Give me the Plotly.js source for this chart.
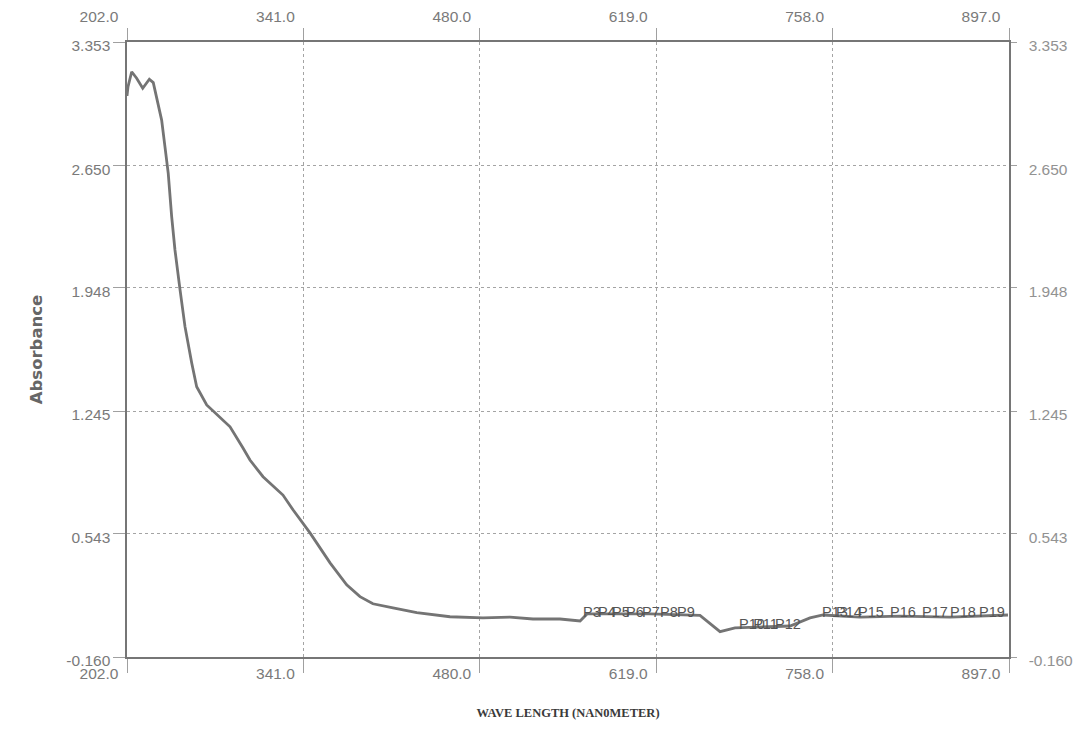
<!DOCTYPE html>
<html>
<head>
<meta charset="utf-8">
<script src="https://cdn.plot.ly/plotly-3.0.1.min.js"></script>
<style>html,body{margin:0;padding:0;background:#fff;}#chart{width:1090px;height:751px;}</style>
</head>
<body>
<div id="chart"></div>
<script>
// Wavelength (nm) and absorbance
const wavelength = [202, 202.8, 205.7, 209.6, 214.4, 219.6, 222.7, 226.7, 229.3, 231.9, 234.5, 237.2, 239.8, 243.8, 247.7, 253, 256.9, 264.8, 273.7, 283.2, 293.4, 298.9, 309.2, 324.9, 332.8, 346.2, 362, 375.1, 385.6, 395.8, 411.6, 430.3, 456.5, 482.5, 503.8, 521.9, 543.2, 559, 564.5, 614.1, 653.5, 669.3, 681.1, 700.8, 724.5, 740.2, 750.5, 779.6, 811.1, 850.5, 896.2];
const absorbance = [3.045, 3.098, 3.183, 3.146, 3.089, 3.140, 3.121, 2.983, 2.907, 2.755, 2.603, 2.355, 2.165, 1.937, 1.727, 1.520, 1.384, 1.280, 1.222, 1.155, 1.034, 0.965, 0.870, 0.765, 0.681, 0.549, 0.378, 0.252, 0.185, 0.144, 0.121, 0.093, 0.070, 0.063, 0.068, 0.057, 0.057, 0.046, 0.086, 0.086, 0.078, -0.015, 0.006, 0.012, 0.017, 0.063, 0.080, 0.068, 0.074, 0.068, 0.080];

// Peak markers printed by the instrument
const peakLabels = ["P3", "P4", "P5", "P6", "P7", "P8", "P9", "P10", "P11", "P12", "P13", "P14", "P15", "P16", "P17", "P18", "P19"];
const peakNm = [561.3, 573.1, 584.2, 595.2, 607.8, 622.0, 635.4, 684.3, 695.4, 712.7, 749.7, 760.7, 778.0, 803.3, 828.5, 850.5, 873.4];
const peakAbs = [0.091, 0.091, 0.091, 0.091, 0.091, 0.091, 0.091, 0.022, 0.022, 0.022, 0.088, 0.088, 0.088, 0.088, 0.088, 0.088, 0.088];

// Axis ticks
const xTicks = [202, 341, 480, 619, 758, 897];
const xTickText = ["202.0", "341.0", "480.0", "619.0", "758.0", "897.0"];
const yTicks = [-0.160, 0.543, 1.245, 1.948, 2.650, 3.353];
const yTickText = ["-0.160", "0.543", "1.245", "1.948", "2.650", "3.353"];
const xRange = [202, 897];
const yRange = [-0.160, 3.353];

const traces = [
  {
    x: wavelength, y: absorbance, type: 'scatter', mode: 'lines',
    line: {color: '#747474', width: 2.8, shape: 'linear'},
    hoverinfo: 'x+y', showlegend: false
  },
  {
    x: peakNm, y: peakAbs, type: 'scatter', mode: 'text',
    text: peakLabels, textposition: 'middle right',
    textfont: {family: 'Liberation Sans, Arial, sans-serif', size: 14.5, color: '#555555'},
    hoverinfo: 'skip', showlegend: false
  },
  {
    x: wavelength, y: absorbance, xaxis: 'x2', yaxis: 'y2', type: 'scatter', mode: 'lines',
    line: {color: 'rgba(0,0,0,0)', width: 0}, hoverinfo: 'skip', showlegend: false
  }
];

const tickFont = {family: 'Liberation Sans, Arial, sans-serif', size: 15.5, color: '#7a7a7a'};
const gridCommon = {showgrid: true, gridcolor: '#a4a4a4', gridwidth: 1, griddash: 'dot', zeroline: false};

const layout = {
  width: 1090, height: 751,
  margin: {l: 127, r: 81, t: 42, b: 94},
  paper_bgcolor: '#ffffff', plot_bgcolor: '#ffffff',
  showlegend: false,
  xaxis: Object.assign({
    range: xRange, tickmode: 'array', tickvals: xTicks, ticktext: xTickText,
    showline: true, linecolor: '#767676', linewidth: 1.6,
    ticks: 'outside', ticklen: 14, tickcolor: '#a0a0a0', tickwidth: 1,
    tickfont: tickFont, ticklabelshift: -28, ticklabelstandoff: -12,
    title: {text: 'WAVE LENGTH (NAN0METER)', standoff: 27,
      font: {family: 'Liberation Serif, Times New Roman, serif', size: 12.5, color: '#3a3a3a', weight: 'bold'}}
  }, gridCommon),
  xaxis2: {
    overlaying: 'x', side: 'top', anchor: 'y', range: xRange,
    tickmode: 'array', tickvals: xTicks, ticktext: xTickText,
    showgrid: false, zeroline: false,
    showline: true, linecolor: '#767676', linewidth: 1.6,
    ticks: 'outside', ticklen: 12, tickcolor: '#a0a0a0', tickwidth: 1,
    tickfont: tickFont, ticklabelshift: -28, ticklabelstandoff: 0
  },
  yaxis: Object.assign({
    range: yRange, tickmode: 'array', tickvals: yTicks, ticktext: yTickText,
    showline: true, linecolor: '#767676', linewidth: 1.6,
    ticks: 'outside', ticklen: 12, tickcolor: '#a0a0a0', tickwidth: 1,
    tickfont: tickFont, ticklabelshift: 4, ticklabelstandoff: 0,
    title: {text: 'Absorbance', standoff: 19,
      font: {family: 'DejaVu Sans, sans-serif', size: 16.5, color: '#666666', weight: 'bold'}}
  }, gridCommon),
  yaxis2: {
    overlaying: 'y', side: 'right', anchor: 'x', range: yRange,
    tickmode: 'array', tickvals: yTicks, ticktext: yTickText,
    showgrid: false, zeroline: false,
    showline: true, linecolor: '#767676', linewidth: 1.6,
    ticks: 'outside', ticklen: 6, tickcolor: '#a0a0a0', tickwidth: 1,
    tickfont: {family: 'Liberation Sans, Arial, sans-serif', size: 15.5, color: '#929292'},
    ticklabelshift: 4, ticklabelstandoff: 9
  }
};

Plotly.newPlot('chart', traces, layout, {displayModeBar: false, staticPlot: true});
</script>
</body>
</html>
